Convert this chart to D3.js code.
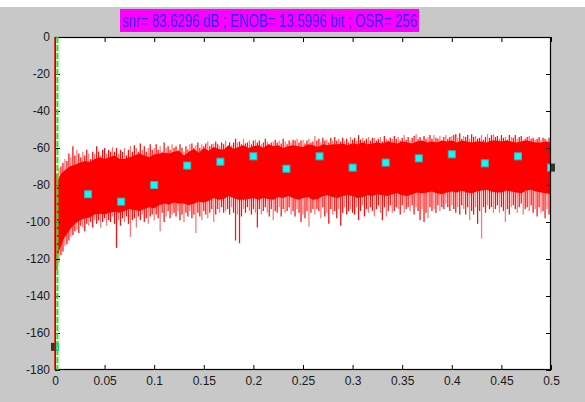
<!DOCTYPE html>
<html>
<head>
<meta charset="utf-8">
<script src="https://cdn.jsdelivr.net/npm/d3@7"></script>
<style>
  html, body { margin: 0; padding: 0; background: #ffffff; }
  svg { display: block; }
</style>
</head>
<body>
<svg id="chart" width="585" height="402"></svg>
<script>
// ---- Data -------------------------------------------------------------
const titleText = "snr= 83.6296 dB ; ENOB= 13.5996 bit ; OSR= 256";

const xTickValues = [0, 0.05, 0.1, 0.15, 0.2, 0.25, 0.3, 0.35, 0.4, 0.45, 0.5];
const xTickLabels = ["0", "0.05", "0.1", "0.15", "0.2", "0.25", "0.3", "0.35", "0.4", "0.45", "0.5"];
const yTickValues = [0, -20, -40, -60, -80, -100, -120, -140, -160, -180];
const yTickLabels = ["0", "-20", "-40", "-60", "-80", "-100", "-120", "-140", "-160", "-180"];

// Normalised frequency grid of the PSD noise band and its dense core edges (dB)
const envF = [0.002,0.004,0.006,0.008,0.01,0.015,0.02,0.025,0.03,0.035,0.04,0.045,0.05,0.055,0.06,
  0.065,0.07,0.075,0.08,0.085,0.09,0.095,0.1,0.105,0.11,0.115,0.12,0.125,0.13,0.135,0.14,0.145,0.15,
  0.155,0.16,0.165,0.17,0.175,0.18,0.185,0.19,0.195,0.2,0.205,0.21,0.215,0.22,0.225,0.23,0.235,0.24,
  0.245,0.25,0.255,0.26,0.265,0.27,0.275,0.28,0.285,0.29,0.295,0.3,0.305,0.31,0.315,0.32,0.325,0.33,
  0.335,0.34,0.345,0.35,0.355,0.36,0.365,0.37,0.375,0.38,0.385,0.39,0.395,0.4,0.405,0.41,0.415,0.42,
  0.425,0.43,0.435,0.44,0.445,0.45,0.455,0.46,0.465,0.47,0.475,0.48,0.485,0.49,0.495,0.5];
const envTop = [-80,-76,-74,-73,-72,
  -70,-69,-68,-67,-67.5,-66,-65,-66,-65,-64,
  -66,-66,-65,-64,-63,-64,-65,-63.5,-63,-62.5,
  -63,-62,-61.5,-64,-62,-60.5,-62.5,-60,-61.5,-59.5,
  -60.5,-61,-58.5,-60.5,-59.5,-58.5,-60,-59,-58.5,-60,
  -58,-59,-58.5,-60,-59,-58.5,-59,-59.5,-58,-58.5,
  -59.5,-58,-58.5,-58,-58,-57.5,-58.5,-57.5,-58,-57,
  -58,-57.5,-57,-57.5,-56.5,-57,-57.5,-56.5,-57,-57.5,
  -56.5,-56,-57,-56.5,-57,-56,-56.5,-56,-57,-56,
  -56.5,-57,-56.5,-56.5,-57,-56,-56,-56.5,-56,-56.5,
  -57,-56.5,-56,-56.5,-57,-57,-56.5,-57];
const envBot = [-120,-116,-113,-110,-108,
  -104,-101,-99,-98,-97.5,-96,-95.5,-96,-95,-94.5,
  -95,-94,-93,-93.5,-94,-93,-92,-92.5,-91,-90,
  -90.5,-89.5,-90,-90,-91,-90,-89,-89.5,-88.5,-87,
  -88,-87.5,-86,-87,-88,-88,-87.5,-87,-88,-87,
  -87.5,-88,-86.5,-87,-86,-87,-88,-87,-86.5,-88,
  -87.5,-86,-85.5,-86.5,-87,-86,-85.5,-86,-87,-86.5,
  -85.5,-86,-85,-85.5,-86,-85,-84.5,-85.5,-86,-85,
  -84,-84.5,-84,-83.5,-84.5,-85,-84,-83.5,-84,-83,
  -84,-84.5,-83.5,-83,-82.5,-83.5,-84,-84,-83,-83.5,
  -84,-84.5,-83,-82.5,-83.5,-84,-84.5,-85];

// Noise spikes on a 0.002 frequency grid (bins 0.002 ... 0.5): upward and downward tips (dB)
const spikeStep = 0.002;
const upSpikeDb = [
  -74,-71,-70,-68,-66,-67,-63,-65,-59,-64,
  -61,-63,-65,-62,-64,-61,-63,-66,-62,-63,
  -59,-62,-64,-61,-60,-63,-61,-62,-59.5,-62,
  -60,-63,-61,-62,-60,-64,-61,-59,-62,-58.5,
  -60,-62,-57.5,-61,-59,-62,-60,-58,-61,-60,
  -58,-61,-59,-62,-57,-60,-59,-61,-58,-60,
  -59,-61,-58,-60,-62,-59,-61,-58,-57.5,-60,
  -58.5,-57,-60,-58,-59,-57.5,-56.5,-59,-58,-57.5,
  -56.5,-58,-59,-57,-58,-56,-59,-57,-58.5,-57,
  -55,-57,-56.5,-58,-55,-57.5,-57,-56,-58,-56,
  -55.5,-57,-56,-58,-57,-55,-56.5,-58,-57,-56.5,
  -55.5,-57,-56,-57.5,-55,-56.5,-58,-56,-57,-55.5,
  -56,-55,-57,-56,-55.5,-57.5,-56,-55,-57,-56.5,
  -53.5,-56,-55,-57,-54.5,-56,-55.5,-57,-54.5,-56,
  -54,-56,-55,-56.5,-54.5,-56,-55,-57,-54,-55.5,
  -54.5,-56,-53,-55.5,-54.5,-56,-55,-54,-56,-54.5,
  -54.5,-56,-55,-54,-56.5,-53.5,-55,-56,-54.5,-55,
  -53.5,-55,-54,-56,-54.5,-53,-55.5,-54,-56,-54.5,
  -53.5,-52.5,-55,-54,-56,-53.5,-55,-54,-53,-55,
  -53,-54.5,-55,-53.5,-56,-54,-53,-55,-54,-53.5,
  -53,-52.5,-54.5,-52,-55,-53.5,-54,-53,-55,-52.5,
  -54,-53.5,-55,-54.5,-53,-55.5,-54,-52.5,-54.5,-53,
  -52.5,-54,-53.5,-55,-53,-54.5,-54,-55.5,-53,-54,
  -54.5,-53,-55,-54,-53.5,-55.5,-55,-54,-53.5,-55,
  -54.5,-55.5,-55,-54,-56,-54.5,-55,-56,-54.5,-55];
const lowSpikeDb = [
  -126,-122,-118,-116,-113,-112,-110,-108,-107,-105,
  -104,-106,-102,-103,-105,-101,-102,-100,-103,-99,
  -101,-99,-103,-100,-98,-102,-99,-100,-97,-101,
  -114,-99,-102,-98,-100,-97,-101,-108,-99,-98,
  -103,-97,-99,-96,-100,-98,-101,-97,-96,-99,
  -96,-98,-105,-95,-100,-97,-94,-98,-96,-95,
  -97,-94,-99,-96,-100,-95,-97,-94,-98,-96,
  -106,-95,-97,-99,-94,-96,-98,-95,-93,-100,
  -96,-93,-95,-92,-95,-94,-93,-96,-92,-95,
  -110,-96,-111.5,-97,-93,-95,-92,-94,-96,-93,
  -95,-103,-93,-96,-94,-92,-95,-97,-93,-99,
  -94,-95,-92,-97,-93,-95,-94,-92,-96,-94,
  -97,-93,-95,-100,-96,-98,-94,-102.5,-95,-93,
  -96,-93,-94,-98,-92,-97,-95,-101,-93,-96,
  -94,-98,-93,-102,-95,-92,-96,-94,-93,-95,
  -96,-92,-99,-94,-91,-97,-93,-95,-92,-94,
  -97,-93,-91,-95,-99,-92,-97,-94,-91,-95,
  -94,-92,-93,-96,-91,-95,-93,-92,-94,-91,
  -96,-92,-94,-99,-93,-100,-95,-98,-92,-94,
  -93,-95,-91,-94,-92,-93,-90,-92,-94,-91,
  -93,-95,-92,-96,-91,-93,-96,-92,-99,-94,
  -96,-92,-101,-94,-109,-92,-95,-91,-93,-92,
  -95,-93,-91,-95,-92,-94,-100,-93,-96,-92,
  -91,-93,-95,-92,-90,-96,-93,-92,-94,-91,
  -95,-93,-97,-92,-95,-94,-98,-93,-96,-95];

// Signal bin at DC spanning the full dB range, and the signal-band edge fB = 0.5/OSR
const dcF = 0;
const dcDb = [0, -180];
const bandEdgeF = 0.5 / 256;

// Band-power markers (cyan squares)
const markerF = [0, 0.0333, 0.0667, 0.1, 0.1333, 0.1667, 0.2, 0.2333, 0.2667, 0.3,
  0.3333, 0.3667, 0.4, 0.4333, 0.4667, 0.5];
const markerDb = [-167.5, -85, -89, -80, -69.5, -67.4, -64.5, -71.2, -64.5, -70.6,
  -67.9, -65.6, -63.4, -68.3, -64.5, -70.6];

const bandMid = -75;

// ---- Layout -----------------------------------------------------------
const W = 585, H = 402;
const plot = { left: 55, right: 551, top: 37, bottom: 370 };
const font = "'Liberation Sans', Arial, Helvetica, sans-serif";

const svg = d3.select("#chart");

// Figure background (grey window with a thin white strip on top)
svg.append("rect").attr("x", 0).attr("y", 0).attr("width", W).attr("height", H).attr("fill", "#ffffff");
svg.append("rect").attr("x", 0).attr("y", 7).attr("width", W).attr("height", H - 7).attr("fill", "#c8c8c8");

const x = d3.scaleLinear().domain([0, 0.5]).range([plot.left, plot.right]);
const y = d3.scaleLinear().domain([-180, 0]).range([plot.bottom, plot.top]);

// Axes area
svg.append("rect")
  .attr("x", plot.left).attr("y", plot.top)
  .attr("width", plot.right - plot.left).attr("height", plot.bottom - plot.top)
  .attr("fill", "#ffffff");

svg.append("defs").append("clipPath").attr("id", "plotClip")
  .append("rect")
  .attr("x", plot.left).attr("y", plot.top)
  .attr("width", plot.right - plot.left).attr("height", plot.bottom - plot.top);

// Marker shadows: the part of a marker lying outside the axes shows dark
const markerData = markerF.map((f, i) => ({ f, db: markerDb[i] }));
const mSize = 8;
svg.append("g").selectAll("rect").data(markerData).join("rect")
  .attr("x", d => x(d.f) - mSize / 2).attr("y", d => y(d.db) - mSize / 2)
  .attr("width", mSize).attr("height", mSize)
  .attr("fill", "#333333");

const gData = svg.append("g").attr("clip-path", "url(#plotClip)");

// Noise spikes
const spikes = [];
upSpikeDb.forEach((db, i) => spikes.push({ f: (i + 1) * spikeStep, db, i }));
lowSpikeDb.forEach((db, i) => spikes.push({ f: (i + 1) * spikeStep, db, i }));
gData.append("g").selectAll("line").data(spikes).join("line")
  .attr("x1", d => x(d.f)).attr("x2", d => x(d.f))
  .attr("y1", y(bandMid)).attr("y2", d => y(d.db))
  .attr("stroke", "#ff0000").attr("stroke-width", 1.25)
  .attr("stroke-opacity", d => (d.i % 3 === 1 ? 0.55 : 0.95));

// Dense noise core
const band = envF.map((f, i) => ({ f, top: envTop[i], bot: envBot[i] }));
gData.append("path").datum(band)
  .attr("d", d3.area().x(d => x(d.f)).y0(d => y(d.bot)).y1(d => y(d.top)))
  .attr("fill", "#ff0000");

// Markers
gData.append("g").selectAll("rect").data(markerData).join("rect")
  .attr("x", d => x(d.f) - mSize / 2 + 0.5).attr("y", d => y(d.db) - mSize / 2 + 0.5)
  .attr("width", mSize - 1).attr("height", mSize - 1)
  .attr("fill", "#00ffff").attr("stroke", "#4fa9a9").attr("stroke-width", 1);

// Axes with inward ticks on all four sides
const axisStyle = g => {
  g.selectAll(".domain").remove();
  g.selectAll(".tick line").attr("stroke", "#000000");
  g.selectAll(".tick text").attr("fill", "#1a1a1a")
    .style("font-family", font).style("font-size", "12px");
};

svg.append("g").attr("transform", `translate(0,${plot.bottom})`)
  .call(d3.axisBottom(x).tickValues(xTickValues)
    .tickFormat((d, i) => xTickLabels[i]).tickSize(-5).tickSizeOuter(0).tickPadding(6))
  .call(axisStyle);
svg.append("g").attr("transform", `translate(0,${plot.top})`)
  .call(d3.axisTop(x).tickValues(xTickValues).tickFormat("").tickSize(-5).tickSizeOuter(0))
  .call(axisStyle);
svg.append("g").attr("transform", `translate(${plot.left},0)`)
  .call(d3.axisLeft(y).tickValues(yTickValues)
    .tickFormat((d, i) => yTickLabels[i]).tickSize(-5).tickSizeOuter(0).tickPadding(5))
  .call(axisStyle);
svg.append("g").attr("transform", `translate(${plot.right},0)`)
  .call(d3.axisRight(y).tickValues(yTickValues).tickFormat("").tickSize(-5).tickSizeOuter(0))
  .call(axisStyle);

// Axes box
svg.append("rect")
  .attr("x", plot.left + 0.5).attr("y", plot.top + 0.5)
  .attr("width", plot.right - plot.left - 1).attr("height", plot.bottom - plot.top - 1)
  .attr("fill", "none").attr("stroke", "#000000").attr("stroke-width", 1.2);

// DC bin, drawn over the left axis line
svg.append("line")
  .attr("x1", x(dcF)).attr("x2", x(dcF))
  .attr("y1", y(dcDb[0])).attr("y2", y(dcDb[1]))
  .attr("stroke", "#ff0000").attr("stroke-width", 1.5);

// Signal-band edge
svg.append("line")
  .attr("x1", x(bandEdgeF) + 0.5).attr("x2", x(bandEdgeF) + 0.5)
  .attr("y1", y(0)).attr("y2", y(-180))
  .attr("stroke", "#00ff00").attr("stroke-width", 2)
  .attr("stroke-dasharray", "6,2");

// Title box
const titleBox = { x: 120, y: 9, w: 299, h: 23 };
svg.append("rect")
  .attr("x", titleBox.x).attr("y", titleBox.y)
  .attr("width", titleBox.w).attr("height", titleBox.h)
  .attr("fill", "#ff00ff");
svg.append("text")
  .attr("x", titleBox.x + titleBox.w / 2).attr("y", 27)
  .attr("text-anchor", "middle")
  .attr("textLength", 295).attr("lengthAdjust", "spacingAndGlyphs")
  .style("font-family", font).style("font-size", "18px")
  .attr("fill", "#2a2aff")
  .text(titleText);
</script>
</body>
</html>
